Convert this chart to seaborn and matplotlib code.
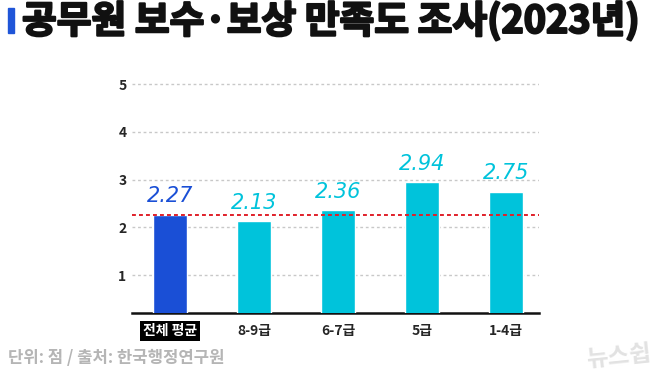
import matplotlib
matplotlib.use("Agg")
import matplotlib.pyplot as plt
import matplotlib.patheffects as pe
import seaborn as sns
import pandas as pd

categories = ["전체 평균", "8-9급", "6-7급", "5급", "1-4급"]
values = [2.27, 2.13, 2.36, 2.94, 2.75]
value_labels = ["2.27", "2.13", "2.36", "2.94", "2.75"]
average = 2.27
y_ticks = [1, 2, 3, 4, 5]
title = "공무원 보수·보상 만족도 조사(2023년)"
source = "단위: 점 / 출처: 한국행정연구원"
watermark = "뉴스쉽"

BLUE = "#1a4fd6"
CYAN = "#00c3db"
colors = [BLUE, CYAN, CYAN, CYAN, CYAN]

sns.set_theme(style="white")
plt.rcParams["font.family"] = ["Noto Sans CJK KR", "DejaVu Sans"]

df = pd.DataFrame({"cat": categories, "val": values})

fig = plt.figure(figsize=(6.58, 3.73), dpi=100)
fig.patch.set_facecolor("white")
ax = fig.add_axes([132 / 658, 0.1616, (539 - 132) / 658, 0.6515])

sns.barplot(data=df, x="cat", y="val", hue="cat", palette=colors,
            legend=False, width=0.405, saturation=1, ax=ax, zorder=3)

ax.set_ylim(0.215, 5.30)
ax.set_xlim(-0.45, 4.39)
ax.set_yticks(y_ticks)
ax.set_yticklabels([str(t) for t in y_ticks], fontsize=10, fontweight="bold")
for t in y_ticks:
    ax.axhline(t, color="#c8c8c8", lw=1.0, ls=(0, (2, 2)), zorder=1)
ax.axhline(average, color="#e0202a", lw=1.4, ls=(0, (2, 1.6)), zorder=4)

ax.set_xlabel("")
ax.set_ylabel("")
for s in ["top", "right", "left"]:
    ax.spines[s].set_visible(False)
ax.spines["bottom"].set_color("#111111")
ax.spines["bottom"].set_linewidth(1.8)
ax.tick_params(axis="y", length=0, pad=4)
ax.tick_params(axis="x", length=0, pad=8)
ax.set_xticks(range(len(categories)))
ax.set_xticklabels(categories, fontsize=10, fontweight="bold")
lab0 = ax.get_xticklabels()[0]
lab0.set_color("white")
lab0.set_bbox(dict(facecolor="black", edgecolor="none", pad=2.0))

for i, (v, lab) in enumerate(zip(values, value_labels)):
    ax.annotate(lab, (i, v), xytext=(0, 6), textcoords="offset points",
                ha="center", va="bottom", fontsize=15, style="italic",
                color=colors[i], family=["DejaVu Sans"], fontweight="light")

fig.patches.append(plt.Rectangle((8 / 658, 1 - 33 / 373), 6 / 658, 25 / 373,
                                 transform=fig.transFigure, color="#1f55d8"))
fig.text(22 / 658, 1 - 21 / 373, title, fontsize=27.2, fontweight="heavy",
         color="#111111", va="center", ha="left",
         path_effects=[pe.withStroke(linewidth=1.6, foreground="#111111")])
fig.text(8 / 658, 1 - 358 / 373, source, fontsize=12, fontweight="bold",
         color="#b5b5b5", va="center", ha="left")
fig.text(652 / 658, 1 - 357 / 373, watermark, fontsize=17, fontweight="bold",
         color="#e2e2e2", va="center", ha="right", rotation=6)

fig.savefig("out.png", dpi=100)
